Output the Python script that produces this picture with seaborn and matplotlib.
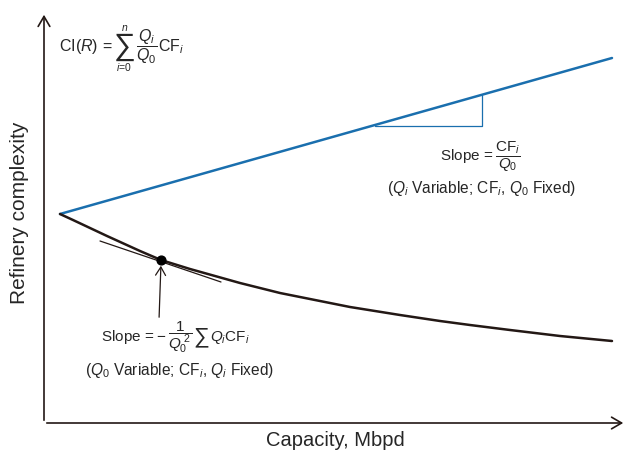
import matplotlib
matplotlib.use("Agg")
import matplotlib.pyplot as plt
import seaborn as sns
import pandas as pd

# Schematic: refinery complexity vs. capacity (arbitrary units)
cap_blue = [16, 568]
cx_blue = [209, 365]

cap_black = [16, 29, 63, 96, 117, 146, 196, 236, 306, 356, 396, 426, 466, 516, 568]
cx_black = [209, 203, 187, 172, 163, 154, 140, 130, 116, 108, 102, 98, 93, 87, 82]

# slope triangle under the linear curve
tri_x = [331, 438, 438]
tri_y = [297, 297, 328.3]

# tangent at the marked point on the decreasing curve
tan_x = [56, 177]
tan_y = [182, 141]
pt_x, pt_y = 117, 163

sns.set_theme(style="white")
plt.rcParams["font.family"] = ["Liberation Sans", "DejaVu Sans"]
plt.rcParams["mathtext.fontset"] = "custom"
plt.rcParams["mathtext.rm"] = "Liberation Sans"
plt.rcParams["mathtext.it"] = "Liberation Sans:italic"
plt.rcParams["mathtext.bf"] = "Liberation Sans:bold"

W, H = 627, 455
fig = plt.figure(figsize=(W / 100, H / 100), dpi=100)
x0, y0 = 44, 423          # axis origin in pixels
ax = fig.add_axes([x0 / W, (H - y0) / H, (W - x0) / W, y0 / H])
ax.set_xlim(0, W - x0)
ax.set_ylim(0, y0)
ax.axis("off")

blue = "#1a6fae"
dark = "#231815"

df_b = pd.DataFrame({"Capacity": cap_blue, "Complexity": cx_blue})
df_k = pd.DataFrame({"Capacity": cap_black, "Complexity": cx_black})
sns.lineplot(data=df_b, x="Capacity", y="Complexity", ax=ax, color=blue, lw=1.8, sort=False)
sns.lineplot(data=df_k, x="Capacity", y="Complexity", ax=ax, color=dark, lw=1.8, sort=False)
ax.plot(tri_x, tri_y, color=blue, lw=0.9)
ax.plot(tan_x, tan_y, color=dark, lw=0.9)
ax.scatter([pt_x], [pt_y], s=40, color="black", zorder=5)

# axes drawn as arrows
arrow_kw = dict(arrowstyle="->,head_length=0.6,head_width=0.35", color=dark, lw=1.2)
ax.annotate("", xy=(0, 411), xytext=(0, 0), arrowprops=arrow_kw, annotation_clip=False)
ax.annotate("", xy=(582, 0), xytext=(0, 0), arrowprops=arrow_kw, annotation_clip=False)

# pointer to the tangent point
ax.annotate("", xy=(117, 160), xytext=(115, 103),
            arrowprops=dict(arrowstyle="->,head_length=0.5,head_width=0.3", color=dark, lw=0.9))

ax.text(-24, 210, "Refinery complexity", rotation=90, ha="center", va="center", fontsize=15)
ax.text(291, -18, "Capacity, Mbpd", ha="center", va="center", fontsize=14.5)


def chain(prev, anchor, s, size, dx=1.0, **kw):
    """Place a text piece just to the right of `prev`, vertically centred on `anchor`."""
    return ax.annotate(s, xy=(1, 0.5), xycoords=(prev, anchor), xytext=(dx, 0),
                       textcoords="offset points", ha="left", va="center",
                       fontsize=size, **kw)


# CI(R) = sum_{i=0}^{n} Q_i/Q_0 CF_i
f1 = ax.text(15, 376, r"CI($R$)$\,=$", ha="left", va="center", fontsize=11.5)
s1 = chain(f1, f1, "\u2211", 22, dx=0.5)
ax.annotate(r"$n$", xy=(0.5, 1), xycoords=s1, xytext=(0, -1), textcoords="offset points",
            ha="center", va="bottom", fontsize=7.5)
ax.annotate(r"$i$=0", xy=(0.5, 0), xycoords=s1, xytext=(0, 1), textcoords="offset points",
            ha="center", va="top", fontsize=7.5)
q1 = chain(s1, f1, r"$\dfrac{Q_i}{Q_0}$", 11.5, dx=0.5)
chain(q1, f1, r"CF$_i$", 11.5, dx=0.5)

# slope of the linear branch
ax.text(436, 266, r"Slope$\,=\dfrac{\mathrm{CF}_i}{Q_0}$", ha="center", va="center", fontsize=11)
ax.text(438, 235, r"($Q_i$ Variable; CF$_i$, $Q_0$ Fixed)", ha="center", va="center", fontsize=11.2)

# slope of the hyperbolic branch
f2 = ax.text(57, 86, r"Slope$\,=-$", ha="left", va="center", fontsize=11)
q2 = chain(f2, f2, r"$\dfrac{1}{Q_0^{\ 2}}$", 11, dx=1.0)
s2 = chain(q2, f2, "\u2211", 16, dx=1.0)
chain(s2, f2, r"$Q_i$CF$_i$", 11, dx=0.5)
ax.text(136, 52, r"($Q_0$ Variable; CF$_i$, $Q_i$ Fixed)", ha="center", va="center", fontsize=11.2)

fig.savefig("out.png", dpi=100)
